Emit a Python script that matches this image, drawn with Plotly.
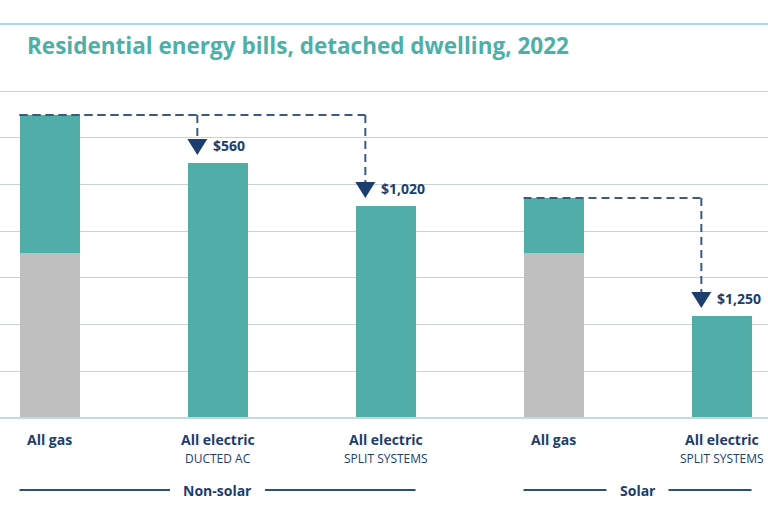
import plotly.graph_objects as go

# ---------------- data ----------------
categories = ["All gas", "All electric", "All electric", "All gas", "All electric"]
subtitles = ["", "DUCTED AC", "SPLIT SYSTEMS", "", "SPLIT SYSTEMS"]
gas_part = [1770, 0, 0, 1770, 0]          # grey segment
elec_part = [1473, 2730, 2270, 585, 1092]  # teal segment
savings = [None, 560, 1020, None, 1250]
savings_base = [None, 0, 0, None, 3]       # bar the saving is measured from
groups = ["Non-solar", "Solar"]
group_members = [[0, 1, 2], [3, 4]]
grid_vals = [500, 1000, 1500, 2000, 2500, 3000, 3500]

# ---------------- style ----------------
TEAL = "#50AEA8"
GREY = "#BFBFBF"
NAVY = "#1C3E6E"
DASH = "#3A5A85"
TITLE_C = "#4DB0A8"
FONT = "Open Sans"

W, H = 768, 512
PLOT_H = 422                 # plot area height in px (top margin 0)
BASE_PX = 418                # pixel row of value 0
UNIT = 500 / 46.71           # data units per pixel
BAR_W = 60 / 168             # bar width in category units
X_PX0 = 49.5                 # pixel centre of first bar
X_STEP = 168                 # px per category

def py(p):
    """pixel row (from top) -> paper y"""
    return (PLOT_H - p) / PLOT_H

x = list(range(len(categories)))
totals = [g + e for g, e in zip(gas_part, elec_part)]

fig = go.Figure()
fig.add_bar(x=x, y=gas_part, width=BAR_W, marker=dict(color=GREY, line=dict(width=0)),
            hoverinfo="skip", showlegend=False)
fig.add_bar(x=x, y=elec_part, width=BAR_W, marker=dict(color=TEAL, line=dict(width=0)),
            hoverinfo="skip", showlegend=False)

shapes = []
annotations = []

# top rule and baseline
shapes.append(dict(type="line", xref="paper", yref="paper", x0=0, x1=1, y0=py(24), y1=py(24),
                   line=dict(color="#AAD8EE", width=2)))
shapes.append(dict(type="line", xref="paper", yref="y", x0=0, x1=1, y0=0, y1=0,
                   line=dict(color="#C3D9DA", width=2)))

# savings connectors, arrows, labels
arrow_off = 0.12
for j, (s, b) in enumerate(zip(savings, savings_base)):
    if s is None:
        continue
    ax = j - arrow_off
    shapes.append(dict(type="line", xref="x", yref="y", x0=b - BAR_W / 2, x1=ax,
                       y0=totals[b], y1=totals[b], line=dict(color=DASH, width=2, dash="8px,5px")))
    shapes.append(dict(type="line", xref="x", yref="y", x0=ax, x1=ax,
                       y0=totals[b], y1=totals[j] + 15 * UNIT,
                       line=dict(color=DASH, width=2, dash="8px,5px")))
for j, (s, b) in enumerate(zip(savings, savings_base)):
    if s is None:
        continue
    ax = j - arrow_off
    shapes.append(dict(type="path", xref="x", yref="y", xsizemode="pixel", ysizemode="pixel",
                       xanchor=ax, yanchor=totals[j], path="M-10,24 L10,24 L0,8 Z",
                       fillcolor=NAVY, line=dict(width=0)))
    annotations.append(dict(x=ax, y=totals[j], xref="x", yref="y", xanchor="left", yanchor="middle",
                            xshift=14, yshift=17, showarrow=False, text=f"${s:,}",
                            font=dict(family=FONT, size=14, color=NAVY, weight=700)))

# category labels
for i, (c, sub) in enumerate(zip(categories, subtitles)):
    annotations.append(dict(x=i, y=py(439), xref="x", yref="paper", xanchor="center", yanchor="middle",
                            showarrow=False, text=c,
                            font=dict(family=FONT, size=14, color=NAVY, weight=700)))
    if sub:
        annotations.append(dict(x=i, y=py(458), xref="x", yref="paper", xanchor="center",
                                yanchor="middle", showarrow=False, text=sub,
                                font=dict(family=FONT, size=12, color=NAVY)))

# group labels with rules
half_text = {"Non-solar": 35, "Solar": 18.5}
for g, mem in zip(groups, group_members):
    left = mem[0] - BAR_W / 2
    right = mem[-1] + BAR_W / 2
    mid = (left + right) / 2
    gap = (half_text[g] + 12.5) / X_STEP
    for a0, a1 in ((left, mid - gap), (mid + gap, right)):
        shapes.append(dict(type="line", xref="x", yref="paper", x0=a0, x1=a1, y0=py(490), y1=py(490),
                           line=dict(color="#2C4F7C", width=2)))
    annotations.append(dict(x=mid, y=py(490), xref="x", yref="paper", xanchor="center",
                            yanchor="middle", showarrow=False, text=g,
                            font=dict(family=FONT, size=14, color=NAVY, weight=700)))

# title
annotations.append(dict(x=25 / W, y=py(45), xref="paper", yref="paper", xanchor="left",
                        yanchor="middle", showarrow=False,
                        text="Residential energy bills, detached dwelling, 2022",
                        font=dict(family=FONT, size=22.5, color=TITLE_C, weight=700)))

fig.update_layout(
    width=W, height=H,
    margin=dict(l=0, r=0, t=0, b=H - PLOT_H),
    barmode="stack", bargap=0,
    plot_bgcolor="white", paper_bgcolor="white",
    xaxis=dict(range=[-X_PX0 / X_STEP, (W - X_PX0) / X_STEP], showgrid=False, zeroline=False,
               showticklabels=False, showline=False, fixedrange=True),
    yaxis=dict(range=[-(PLOT_H - BASE_PX) * UNIT, BASE_PX * UNIT], tickvals=grid_vals,
               showgrid=True, gridcolor="#C8D1D6", gridwidth=1, zeroline=False,
               showticklabels=False, showline=False, fixedrange=True),
    shapes=shapes, annotations=annotations,
)

fig.write_html("out.html", config={"displayModeBar": False},
               post_script="document.body.style.margin='0';document.body.style.overflow='hidden';")
